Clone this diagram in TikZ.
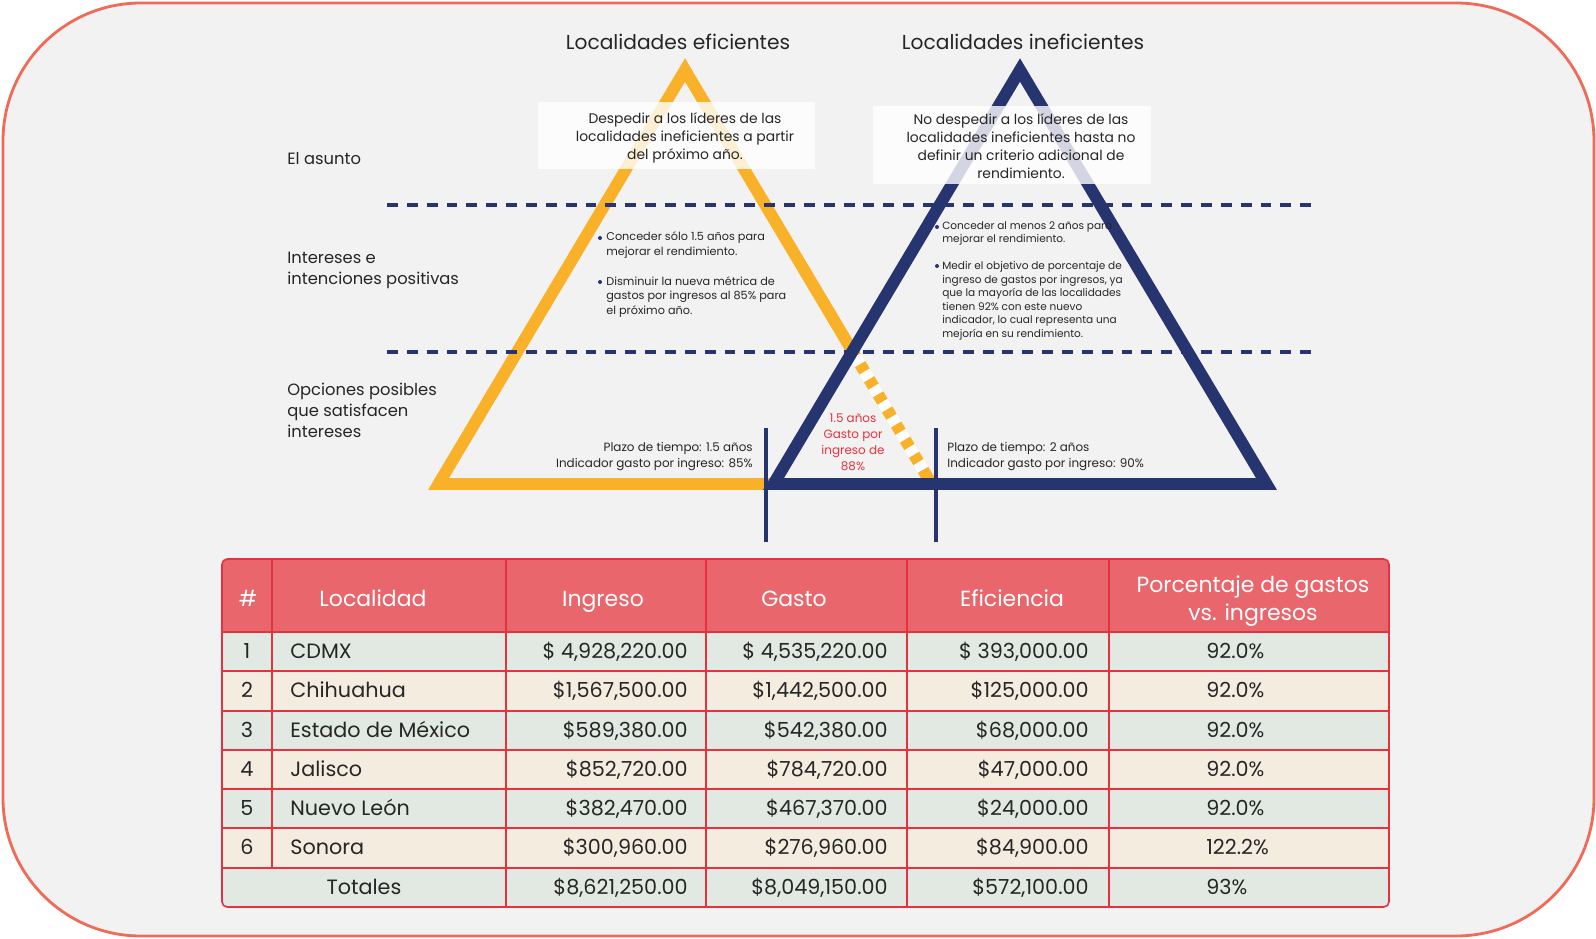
\documentclass[tikz,border=0pt]{standalone}
\usepackage{fontspec}
\setmainfont{Poppins}
\usetikzlibrary{calc}
\definecolor{navy}{HTML}{26346F}
\definecolor{ylw}{HTML}{F8B128}
\definecolor{bg}{HTML}{F2F2F2}
\definecolor{framec}{HTML}{F06A58}
\definecolor{txtc}{HTML}{262626}
\definecolor{redtxt}{HTML}{E8323C}
\definecolor{hdrc}{HTML}{E8666C}
\definecolor{gridc}{HTML}{E5323E}
\definecolor{rowg}{HTML}{E1E9E2}
\definecolor{rowb}{HTML}{F5ECE0}
\newcommand{\trow}[8]{%
  \node[bdy] (n#1) at (247,#2+6.5) {#3};
  \node[bdy, anchor=base west] (l#1) at (290,#2+6.5) {#4};
  \node[bdy, anchor=base east] (i#1) at (688,#2+6.5) {#5};
  \node[bdy, anchor=base east] (g#1) at (888,#2+6.5) {#6};
  \node[bdy, anchor=base east] (e#1) at (1089,#2+6.5) {#7};
  \node[bdy, anchor=base west] (p#1) at (1206,#2+6.5) {#8};
}
\begin{document}
\begin{tikzpicture}[x=0.02cm,y=-0.02cm,
  txt/.style={text=txtc, inner sep=0pt},
  ttl/.style={txt, font=\fontsize{11.5}{14}\selectfont},
  lab/.style={txt, align=left, anchor=west, font=\fontsize{9.3}{11.9}\selectfont},
  boxtxt/.style={txt, align=center, font=\fontsize{7.9}{10.2}\selectfont},
  bul/.style={txt, align=left, anchor=west, font=\fontsize{6.4}{8.2}\selectfont},
  bulr/.style={txt, align=left, anchor=west, font=\fontsize{6}{7.7}\selectfont},
  opt/.style={txt, font=\fontsize{6.8}{9.1}\selectfont},
  redt/.style={opt, text=redtxt, align=center},
  hdr/.style={text=white, inner sep=0pt, font=\fontsize{12.5}{15.9}\selectfont},
  bdy/.style={txt, anchor=base, font=\fontsize{11.8}{14}\selectfont},
  tri/.style={line width=6.8pt, line join=miter},
  ndash/.style={navy, line width=2.8pt, dash pattern=on 6.2pt off 5.1pt},
  vline/.style={navy, line width=2.3pt},
  wbox/.style={fill=white, opacity=0.8},
  grid/.style={gridc, line width=0.9pt}
]
\useasboundingbox (0,0) rectangle (1596,939);
\fill[white] (0,0) rectangle (1596,939);
\draw[framec, line width=1.6pt, fill=bg, rounded corners=2.76cm] (3,3) rectangle (1594,936);

% titles
\node[ttl] (t1) at (678,42) {Localidades eficientes};
\node[ttl] (t2) at (1023,42) {Localidades ineficientes};

% left labels
\node[lab] (la1) at (287,159) {El asunto};
\node[lab] (la2) at (287,270) {Intereses e\\intenciones positivas};
\node[lab] (la3) at (287,410) {Opciones posibles\\que satisfacen\\intereses};

% triangles
\coordinate (ya) at (685,70);
\coordinate (yl) at (438.5,484);
\coordinate (yr) at (931.5,484);
\coordinate (ba) at (1020,70);
\coordinate (bl) at (773.5,484);
\coordinate (br) at (1266.5,484);
\draw[tri, ylw] (ya) -- (yl) -- (yr) -- cycle;
\draw[white, line width=7pt, dash pattern=on 5pt off 5pt] ($(ya)!0.692!(yr)$) -- ($(ya)!0.975!(yr)$);
\draw[tri, navy] (ba) -- (bl) -- (br) -- cycle;

% vertical lines
\coordinate (v1t) at (766,428); \coordinate (v1b) at (766,542);
\coordinate (v2t) at (936,428); \coordinate (v2b) at (936,542);
\draw[vline] (v1t) -- (v1b);
\draw[vline] (v2t) -- (v2b);

% dashed separators
\coordinate (d1a) at (387,205); \coordinate (d1b) at (1313,205);
\coordinate (d2a) at (387,352); \coordinate (d2b) at (1313,352);
\draw[ndash] (d1a) -- (d1b);
\draw[ndash] (d2a) -- (d2b);

% white boxes
\fill[wbox] (538,102) rectangle (815,169);
\fill[wbox] (873,106) rectangle (1151,184);
\node[boxtxt] (bx1) at (685,137.5) {Despedir a los líderes de las\\localidades ineficientes a partir\\del próximo año.};
\node[boxtxt] (bx2) at (1021,146) {No despedir a los líderes de las\\localidades ineficientes hasta no\\definir un criterio adicional de\\rendimiento.};

% bullets
\fill[navy] (600,238) circle (2);
\fill[navy] (600,282) circle (2);
\fill[navy] (937,227) circle (2);
\fill[navy] (937,266) circle (2);
\node[bul] (b1) at (606,245) {Conceder sólo 1.5 años para\\mejorar el rendimiento.};
\node[bul] (b2) at (606,297) {Disminuir la nueva métrica de\\gastos por ingresos al 85\% para\\el próximo año.};
\node[bulr] (b3) at (942,233.5) {Conceder al menos 2 años para\\mejorar el rendimiento.};
\node[bulr] (b4) at (942,301) {Medir el objetivo de porcentaje de\\ingreso de gastos por ingresos, ya\\que la mayoría de las localidades\\tienen 92\% con este nuevo\\indicador, lo cual representa una\\mejoría en su rendimiento.};

% options
\node[opt, align=right, anchor=east] (pl) at (753,457) {Plazo de tiempo: 1.5 años\\Indicador gasto por ingreso: 85\%};
\node[opt, align=left, anchor=west] (pr) at (947,457) {Plazo de tiempo: 2 años\\Indicador gasto por ingreso: 90\%};
\node[redt] (mid) at (853,442) {1.5 años\\Gasto por\\ingreso de\\88\%};

% table
\begin{scope}
\clip[rounded corners=3pt] (222,559) rectangle (1389,907);
\fill[hdrc] (222,559) rectangle (1389,632);
\fill[rowg] (222,632) rectangle (1389,671);
\fill[rowb] (222,671) rectangle (1389,711);
\fill[rowg] (222,711) rectangle (1389,750);
\fill[rowb] (222,750) rectangle (1389,789);
\fill[rowg] (222,789) rectangle (1389,828);
\fill[rowb] (222,828) rectangle (1389,868);
\fill[rowg] (222,868) rectangle (1389,907);
\end{scope}
\foreach \yy in {632,671,711,750,789,828,868}
  \draw[grid] (222,\yy) -- (1389,\yy);
\draw[grid] (272,559) -- (272,868);
\foreach \xx in {506,706,907,1109}
  \draw[grid] (\xx,559) -- (\xx,907);
\draw[grid, rounded corners=3pt] (222,559) rectangle (1389,907);

\node[hdr, anchor=base] (h1) at (248,606) {\#};
\node[hdr, anchor=base] (h2) at (373,606) {Localidad};
\node[hdr, anchor=base] (h3) at (603,606) {Ingreso};
\node[hdr, anchor=base] (h4) at (794,606) {Gasto};
\node[hdr, anchor=base] (h5) at (1012,606) {Eficiencia};
\node[hdr, align=center] (h6) at (1253,601) {Porcentaje de gastos\\vs. ingresos};

\trow{1}{651.5}{1}{CDMX}{\$ 4,928,220.00}{\$ 4,535,220.00}{\$ 393,000.00}{92.0\%}
\trow{2}{691}{2}{Chihuahua}{\$1,567,500.00}{\$1,442,500.00}{\$125,000.00}{92.0\%}
\trow{3}{730.5}{3}{Estado de México}{\$589,380.00}{\$542,380.00}{\$68,000.00}{92.0\%}
\trow{4}{769.5}{4}{Jalisco}{\$852,720.00}{\$784,720.00}{\$47,000.00}{92.0\%}
\trow{5}{808.5}{5}{Nuevo León}{\$382,470.00}{\$467,370.00}{\$24,000.00}{92.0\%}
\trow{6}{848}{6}{Sonora}{\$300,960.00}{\$276,960.00}{\$84,900.00}{122.2\%}
\node[bdy] (tot) at (364,894) {Totales};
\node[bdy, anchor=base east] (ti) at (688,894) {\$8,621,250.00};
\node[bdy, anchor=base east] (tg) at (888,894) {\$8,049,150.00};
\node[bdy, anchor=base east] (te) at (1089,894) {\$572,100.00};
\node[bdy, anchor=base west] (tp) at (1206,894) {93\%};
\end{tikzpicture}
\end{document}
